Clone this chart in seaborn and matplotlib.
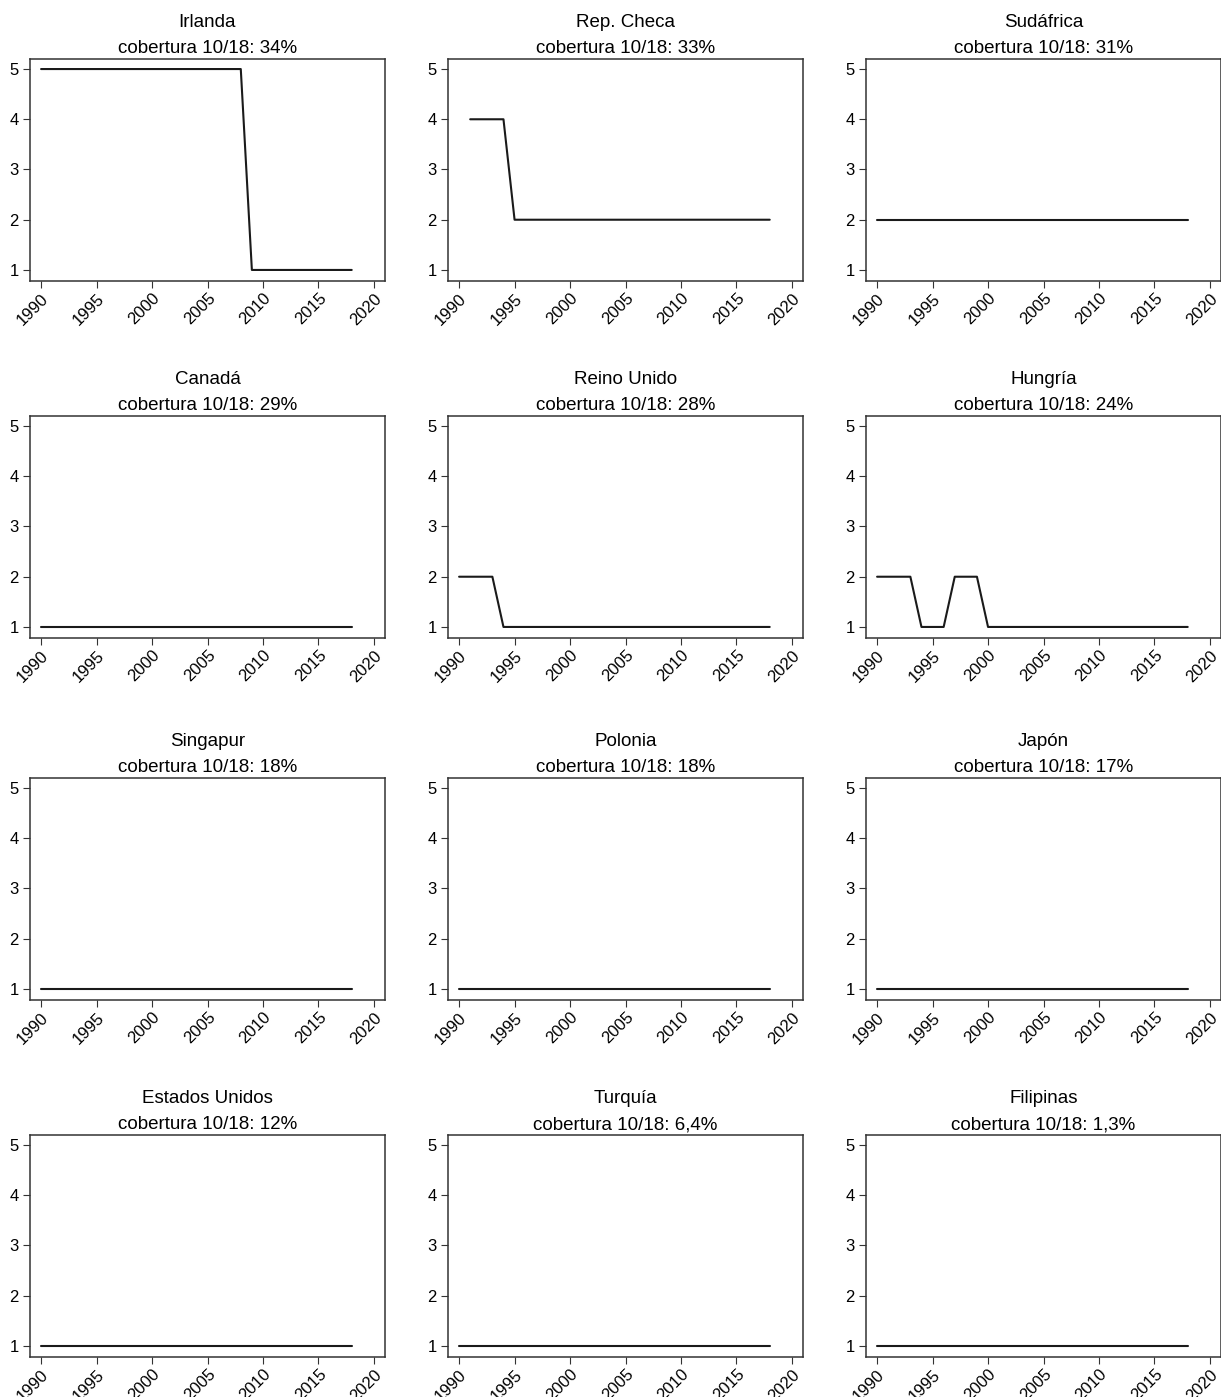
import matplotlib
matplotlib.use("Agg")
import matplotlib.pyplot as plt
import seaborn as sns
import pandas as pd

sns.set_style("ticks")
plt.rcParams["font.family"] = ["Liberation Sans", "DejaVu Sans"]
plt.rcParams["text.color"] = "black"

countries = ["Irlanda", "Rep. Checa", "Sudáfrica", "Canadá", "Reino Unido", "Hungría",
             "Singapur", "Polonia", "Japón", "Estados Unidos", "Turquía", "Filipinas"]
coverage = ["34%", "33%", "31%", "29%", "28%", "24%", "18%", "18%", "17%", "12%", "6,4%", "1,3%"]

years = list(range(1990, 2019))
irlanda = [5] * 19 + [1] * 10
rep_checa = [None] + [4] * 4 + [2] * 24
sudafrica = [2] * 29
canada = [1] * 29
reino_unido = [2] * 4 + [1] * 25
hungria = [2] * 4 + [1] * 3 + [2] * 3 + [1] * 19
singapur = [1] * 29
polonia = [1] * 29
japon = [1] * 29
estados_unidos = [1] * 29
turquia = [1] * 29
filipinas = [1] * 29

series = [irlanda, rep_checa, sudafrica, canada, reino_unido, hungria,
          singapur, polonia, japon, estados_unidos, turquia, filipinas]

rows = []
for c, vals in zip(countries, series):
    for y, v in zip(years, vals):
        if v is not None:
            rows.append({"pais": c, "anio": y, "valor": v})
df = pd.DataFrame(rows)

fig = plt.figure(figsize=(12.21, 13.97), dpi=100)
W, H = 1221, 1397
lefts = [30, 448, 866]
tops = [59, 416, 778, 1135]
aw, ah = 355, 222

for i, c in enumerate(countries):
    r, k = divmod(i, 3)
    ax = fig.add_axes([lefts[k] / W, 1 - (tops[r] + ah) / H, aw / W, ah / H])
    sns.lineplot(data=df[df["pais"] == c], x="anio", y="valor", color="#1a1a1a",
                 linewidth=1.5, ax=ax)
    ax.set_xlim(1989, 2021)
    ax.set_ylim(0.78, 5.2)
    ax.set_xticks(range(1990, 2021, 5))
    ax.set_yticks([1, 2, 3, 4, 5])
    ax.set_xlabel("")
    ax.set_ylabel("")
    ax.tick_params(axis="x", labelsize=12, rotation=45, length=5, width=0.8,
                   color="#333333", labelcolor="black", pad=2)
    ax.tick_params(axis="y", labelsize=12, length=5, width=0.8,
                   color="#333333", labelcolor="black", pad=3)
    for lab in ax.get_xticklabels():
        lab.set_ha("right")
        lab.set_rotation_mode("anchor")
    for s in ax.spines.values():
        s.set_color("#333333")
        s.set_linewidth(1.1)
    ax.set_title(c + "\ncobertura 10/18: " + coverage[i], fontsize=13.5, pad=4,
                 linespacing=1.7, color="black")

fig.savefig("out.png", dpi=100)
